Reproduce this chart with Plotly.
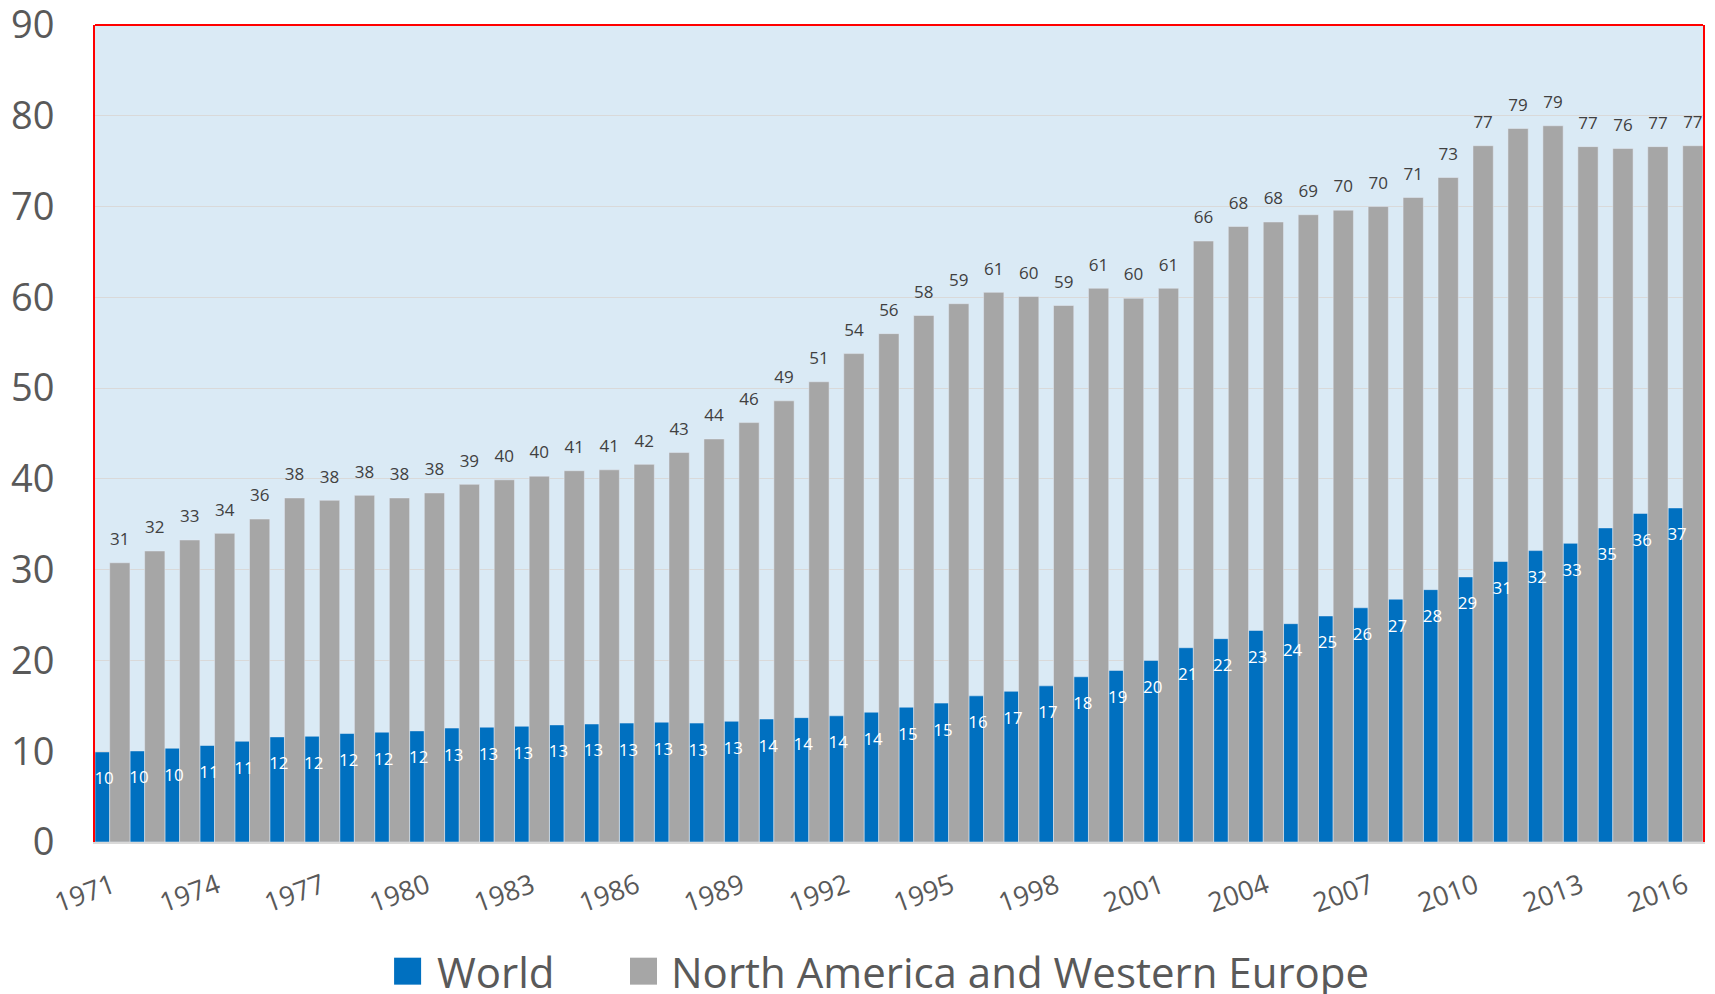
import plotly.graph_objects as go

years = list(range(1971, 2017))
world = [9.92, 10.03, 10.33, 10.63, 11.1, 11.58, 11.65, 11.95, 12.1, 12.24,
         12.55, 12.65, 12.75, 12.9, 13.0, 13.1, 13.2, 13.1, 13.3, 13.55,
         13.7, 13.9, 14.3, 14.85, 15.3, 16.1, 16.6, 17.2, 18.2, 18.9,
         20.0, 21.4, 22.4, 23.3, 24.05, 24.9, 25.8, 26.75, 27.8, 29.2,
         30.9, 32.1, 32.9, 34.6, 36.2, 36.8]
nawe = [30.76, 32.06, 33.27, 34.0, 35.58, 37.9, 37.64, 38.19, 37.9, 38.45,
        39.4, 39.9, 40.3, 40.9, 41.0, 41.6, 42.9, 44.4, 46.2, 48.6,
        50.7, 53.8, 56.0, 58.0, 59.3, 60.55, 60.1, 59.1, 61.0, 59.9,
        61.0, 66.2, 67.8, 68.3, 69.1, 69.6, 70.0, 71.0, 73.2, 76.7,
        78.6, 78.9, 76.6, 76.4, 76.6, 76.7]
tick_years = list(range(1971, 2017, 3))
y_ticks = list(range(0, 91, 10))
series_names = ["World", "North America and Western Europe"]

BLUE = "#0070c0"
GRAY = "#a6a6a6"
FONT = "Open Sans"

# bar geometry within each year slot (style)
W_BLUE, OFF_BLUE = 0.42, -0.5
W_GRAY, OFF_GRAY = 0.58, -0.08

fig = go.Figure()
fig.add_trace(go.Bar(
    x=years, y=world, name=series_names[0], marker_color=BLUE,
    width=W_BLUE, offset=OFF_BLUE, showlegend=False,
))
fig.add_trace(go.Bar(
    x=years, y=nawe, name=series_names[1], marker_color=GRAY,
    width=W_GRAY, offset=OFF_GRAY, showlegend=False,
))
# data labels (centered on each bar)
fig.add_trace(go.Scatter(
    x=[y + OFF_BLUE + W_BLUE / 2 + 0.05 for y in years], y=world,
    mode="markers+text", text=[f"{v:.0f}" for v in world],
    textposition="bottom center",
    marker=dict(size=30, opacity=0),
    textfont=dict(color="white", size=17, family=FONT),
    showlegend=False, hoverinfo="skip", cliponaxis=False,
))
fig.add_trace(go.Scatter(
    x=[y + OFF_GRAY + W_GRAY / 2 for y in years], y=nawe,
    mode="markers+text", text=[f"{v:.0f}" for v in nawe],
    textposition="top center",
    marker=dict(size=20, opacity=0),
    textfont=dict(color="#404040", size=17, family=FONT),
    showlegend=False, hoverinfo="skip", cliponaxis=False,
))

# legend drawn as squares + text below the plot
legend_items = [(series_names[0], BLUE, 0.186, 0.2114),
                (series_names[1], GRAY, 0.3327, 0.357)]
shapes = [dict(type="line", xref="paper", yref="paper", x0=0, x1=1, y0=1, y1=1,
               line=dict(color="red", width=2))]
annotations = []
for nm, col, sx, tx in legend_items:
    shapes.append(dict(type="rect", xref="paper", yref="paper",
                       x0=sx, x1=sx + 0.0168, y0=-0.1746, y1=-0.1416,
                       fillcolor=col, line=dict(width=0)))
    annotations.append(dict(text=nm, xref="paper", yref="paper", x=tx, y=-0.158,
                            xanchor="left", yanchor="middle", showarrow=False,
                            font=dict(size=42, color="#595959", family=FONT)))

fig.update_layout(
    width=1715, height=994,
    margin=dict(l=95, r=12, t=25, b=152),
    barmode="overlay",
    plot_bgcolor="#daeaf5",
    paper_bgcolor="white",
    font=dict(family=FONT, color="#595959"),
    showlegend=False,
    shapes=shapes,
    annotations=annotations,
)
fig.update_xaxes(
    range=[1970.5, 2016.5], automargin=False,
    tickmode="array", tickvals=tick_years, ticktext=[str(y) for y in tick_years],
    tickangle=-20, tickfont=dict(size=27, color="#595959", family=FONT),
    ticks="outside", ticklen=16, tickcolor="rgba(0,0,0,0)",
    showline=True, linecolor="#d9d9d9", linewidth=2,
    showgrid=False, zeroline=False,
)
fig.update_yaxes(
    range=[0, 90], automargin=False,
    tickmode="array", tickvals=y_ticks, ticklabeloverflow="allow",
    tickfont=dict(size=38, color="#595959", family=FONT),
    showgrid=True, gridcolor="#d9d9d9", gridwidth=1.2,
    showline=True, linecolor="red", linewidth=2, mirror=True,
    ticks="outside", ticklen=31, tickcolor="rgba(0,0,0,0)",
    zeroline=False,
)

fig.write_html(
    "out.html",
    config={"displayModeBar": False},
    post_script="document.body.style.margin='0';document.body.style.overflow='hidden';",
)
